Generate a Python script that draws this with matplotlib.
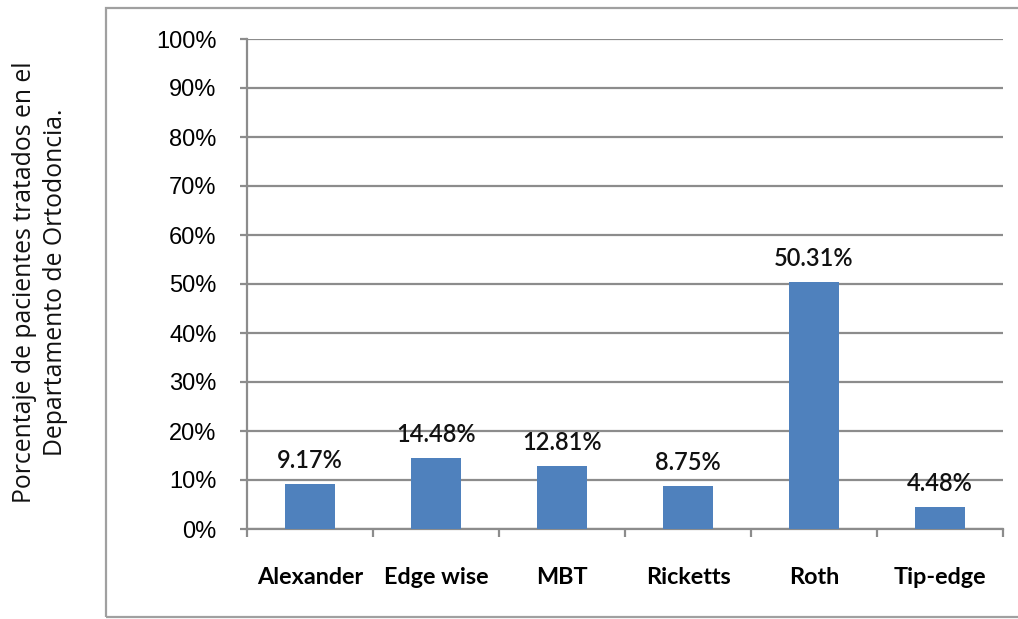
import numpy as np
import matplotlib
matplotlib.use("Agg")
import matplotlib.pyplot as plt
from matplotlib.patches import Rectangle

# data
categories = ["Alexander", "Edge wise", "MBT", "Ricketts", "Roth", "Tip-edge"]
values = [9.17, 14.48, 12.81, 8.75, 50.31, 4.48]
yticks = np.arange(0, 101, 10)

bar_color = "#4F81BD"
grid_color = "#8C8C8C"

fig = plt.figure(figsize=(10.18, 6.19), dpi=100)
ax = fig.add_axes([247/1018, 1 - 529/619, 756/1018, 490/619])

# outer chart border
fig.patches.append(Rectangle((106/1018, 2/619), 1.0, 1 - 10/619, transform=fig.transFigure,
                             fill=False, edgecolor="#a0a0a0", linewidth=1.6, zorder=0))

x = np.arange(len(categories))
ax.bar(x, values, width=0.4, color=bar_color, zorder=3)

for xi, v in zip(x, values):
    ax.annotate(f"{v:.2f}%", (xi, v), xytext=(0, 9), textcoords="offset points",
                ha="center", va="bottom", fontsize=17, family="Lato",
                fontweight="semibold", color="#111111")

ax.set_xlim(-0.5, len(categories) - 0.5)
ax.set_ylim(0, 100)
ax.set_yticks(yticks)
ax.set_yticklabels([f"{t}%" for t in yticks], family="Liberation Sans", fontsize=17)
ax.yaxis.grid(True, color=grid_color, linewidth=1.6, zorder=0)

ax.set_xticks(x)
ax.set_xticklabels(categories, family="Lato", fontweight="bold", fontsize=16.8)
ax.set_xticks(np.arange(len(categories) + 1) - 0.5, minor=True)
ax.tick_params(axis="x", which="major", length=0, pad=27)
ax.tick_params(axis="x", which="minor", length=6, width=1.6, color=grid_color)
ax.tick_params(axis="y", length=5, width=1.6, color=grid_color, pad=17)

for s in ["top", "right"]:
    ax.spines[s].set_visible(False)
for s in ["left", "bottom"]:
    ax.spines[s].set_color(grid_color)
    ax.spines[s].set_linewidth(1.6)

fig.text(40/1018, 1 - 282/619, "Porcentaje de pacientes tratados en el\nDepartamento de Ortodoncia.",
         rotation=90, ha="center", va="center", fontsize=17.8, family="Open Sans",
         linespacing=1.28, color="#111111")

fig.savefig("out.png", dpi=100)
